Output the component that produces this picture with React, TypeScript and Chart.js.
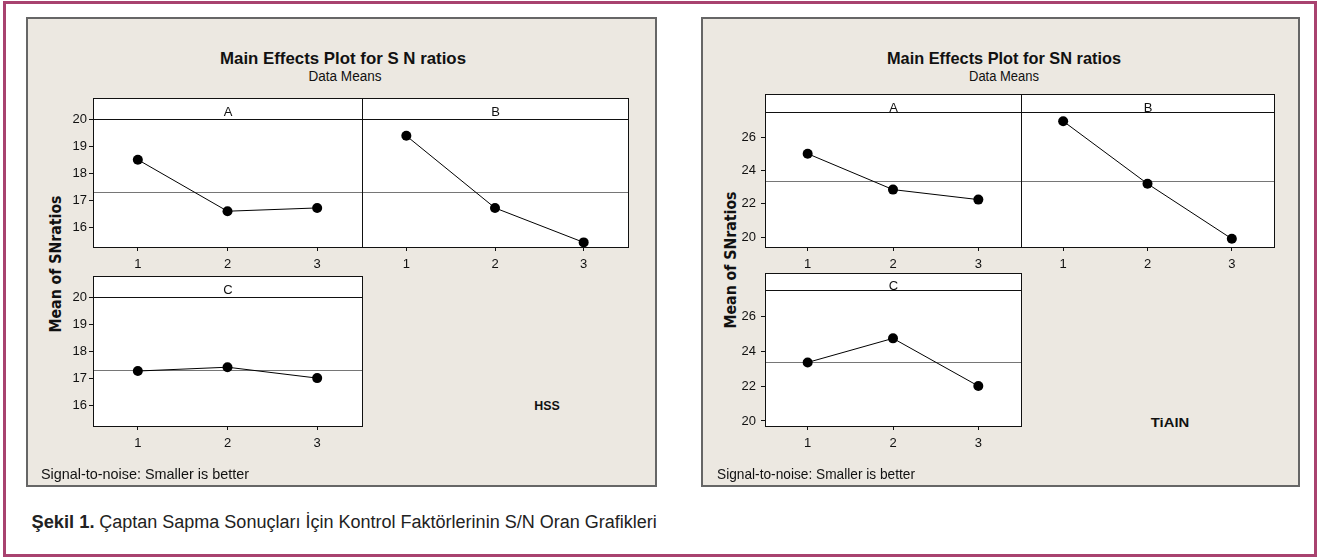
import React, { useEffect, useRef } from "react";
import { Chart, registerables } from "chart.js";

Chart.register(...registerables);

// ---------- data ----------
const levels = [1, 2, 3];
const factorNames = ["A", "B", "C"];

const hssA = [18.5, 16.6, 16.72];
const hssB = [19.38, 16.72, 15.45];
const hssC = [17.28, 17.42, 17.02];
const hssMean = 17.3;
const hssYTicks = [16, 17, 18, 19, 20];

const tialnA = [25.0, 22.85, 22.25];
const tialnB = [26.95, 23.2, 19.9];
const tialnC = [23.35, 24.73, 22.0];
const tialnMean = 23.38;
const tialnYTicks = [20, 22, 24, 26];

// ---------- style ----------
const TICK_FONT = "Liberation Sans";
const LEFT_PAD = 40;
const BOTTOM_PAD = 32;

type SubProps = {
  left: number;
  right: number;
  top: number;
  headerBottom: number;
  bottom: number;
  yMin: number;
  yMax: number;
  yTicks: number[];
  values: number[];
  mean: number;
  label: string;
  showY: boolean;
  labelOffset: number;
  yPad: number;
};

function Subplot(p: SubProps) {
  const ref = useRef<HTMLCanvasElement>(null);
  const lp = p.showY ? LEFT_PAD : 0;
  const width = p.right - p.left + lp + 1;
  const height = p.bottom - p.top + BOTTOM_PAD;

  useEffect(() => {
    if (!ref.current) return;
    const framePlugin = {
      id: "frame",
      beforeDatasetsDraw(chart: any) {
        const { ctx, chartArea } = chart;
        const { left, right, bottom } = chartArea;
        ctx.save();
        ctx.fillStyle = "#ffffff";
        ctx.fillRect(left, 0, right - left, bottom);
        const my = Math.round(chart.scales.y.getPixelForValue(p.mean)) + 0.5;
        ctx.strokeStyle = "#767676";
        ctx.lineWidth = 1;
        ctx.beginPath();
        ctx.moveTo(left, my);
        ctx.lineTo(right, my);
        ctx.stroke();
        ctx.restore();
      },
      afterDatasetsDraw(chart: any) {
        const { ctx, chartArea } = chart;
        const { left, right, top, bottom } = chartArea;
        ctx.save();
        ctx.strokeStyle = "#111";
        ctx.lineWidth = 1;
        ctx.fillStyle = "#ffffff";
        ctx.fillRect(left, 0.5, right - left, top - 0.5);
        ctx.strokeRect(left + 0.5, 0.5, right - left, top);
        ctx.strokeRect(left + 0.5, top + 0.5, right - left, bottom - top);
        ctx.fillStyle = "#111";
        ctx.font = `13px "${TICK_FONT}"`;
        ctx.textAlign = "center";
        ctx.textBaseline = "alphabetic";
        ctx.fillText(p.label, (left + right) / 2 + 0.5, top - p.labelOffset);
        ctx.restore();
      },
    };

    const chart = new Chart(ref.current, {
      type: "line",
      data: {
        datasets: [
          {
            data: levels.map((x, i) => ({ x, y: p.values[i] })),
            borderColor: "#000",
            borderWidth: 1,
            pointRadius: 5,
            pointBackgroundColor: "#000",
            pointBorderColor: "#000",
            pointBorderWidth: 0,
            tension: 0,
            clip: false as any,
          },
        ],
      },
      options: {
        responsive: false,
        animation: false,
        devicePixelRatio: 1,
        layout: {
          autoPadding: false,
          padding: { top: p.headerBottom - p.top, left: 0, right: 1, bottom: 0 },
        },
        plugins: { legend: { display: false }, tooltip: { enabled: false } },
        scales: {
          x: {
            type: "linear",
            min: 0.5,
            max: 3.5,
            afterBuildTicks: (s: any) => {
              s.ticks = levels.map((v) => ({ value: v }));
            },
            afterFit: (s: any) => {
              s.height = BOTTOM_PAD;
            },
            grid: { display: true, drawOnChartArea: false, drawTicks: true, tickLength: 4, color: "#111" },
            border: { display: false },
            ticks: {
              color: "#111",
              font: { family: TICK_FONT, size: 13 },
              padding: 6,
              autoSkip: false,
              maxRotation: 0,
            },
          },
          y: {
            type: "linear",
            display: p.showY,
            min: p.yMin,
            max: p.yMax,
            afterBuildTicks: (s: any) => {
              s.ticks = p.yTicks.map((v) => ({ value: v }));
            },
            afterFit: (s: any) => {
              s.width = p.showY ? LEFT_PAD : 0;
            },
            grid: { display: true, drawOnChartArea: false, drawTicks: true, tickLength: 4, color: "#111" },
            border: { display: false },
            ticks: {
              color: "#111",
              font: { family: TICK_FONT, size: 13 },
              padding: p.yPad,
              autoSkip: false,
            },
          },
        },
      },
      plugins: [framePlugin],
    } as any);
    return () => chart.destroy();
  }, []);

  return (
    <canvas
      ref={ref}
      width={width}
      height={height}
      style={{ position: "absolute", left: p.left - lp, top: p.top, width, height }}
    />
  );
}

// ---------- fitted text ----------
let measureCtx: CanvasRenderingContext2D | null = null;
function measure(text: string, font: string) {
  if (!measureCtx) measureCtx = document.createElement("canvas").getContext("2d");
  measureCtx!.font = font;
  return measureCtx!.measureText(text).width;
}

function FitText(props: {
  text: string;
  font: string;
  cx: number;
  cy: number;
  width: number;
  rotate?: boolean;
  color?: string;
}) {
  const w = measure(props.text, props.font) || 1;
  const s = props.width / w;
  return (
    <div
      style={{
        position: "absolute",
        left: props.cx,
        top: props.cy,
        font: props.font,
        lineHeight: 1,
        whiteSpace: "nowrap",
        color: props.color || "#111",
        transformOrigin: "center center",
        transform: `translate(-50%, -50%) ${props.rotate ? "rotate(-90deg) " : ""}scaleX(${s})`,
      }}
    >
      {props.text}
    </div>
  );
}

function Panel(props: { left: number; right: number; top: number; bottom: number }) {
  return (
    <div
      style={{
        position: "absolute",
        left: props.left,
        top: props.top,
        width: props.right - props.left,
        height: props.bottom - props.top,
        boxSizing: "border-box",
        background: "#ece8e1",
        border: "2px solid #666",
      }}
    />
  );
}

export default function App() {
  useEffect(() => {
    document.body.style.margin = "0";
    document.body.style.overflow = "hidden";
  }, []);

  const titleFont = 'bold 17px "Liberation Sans"';
  const subFont = '14px "Liberation Sans"';
  const yFont = 'bold 15px "DejaVu Sans"';
  const noteFont = '15px "Liberation Sans"';
  const tagFont = 'bold 13px "Liberation Sans"';

  return (
    <div
      style={{
        position: "absolute",
        left: 0,
        top: 0,
        width: 1317,
        height: 559,
        background: "#fff",
        overflow: "hidden",
      }}
    >
      <div
        style={{
          position: "absolute",
          left: 3,
          top: 1,
          width: 1314,
          height: 556,
          boxSizing: "border-box",
          border: "3px solid #a8426f",
        }}
      />

      {/* Left panel: HSS */}
      <Panel left={26} right={657} top={17} bottom={487} />
      <FitText text="Main Effects Plot for S N ratios" font={titleFont} cx={343} cy={57.5} width={246} />
      <FitText text="Data Means" font={subFont} cx={344.5} cy={75.5} width={73} />
      <FitText text="Mean of SNratios" font={yFont} cx={56} cy={263.5} width={137} rotate />
      <Subplot left={93} right={362} top={98} headerBottom={119} bottom={247} yMin={15.28} yMax={20}
        yTicks={hssYTicks} values={hssA} mean={hssMean} label={factorNames[0]} showY labelOffset={3} yPad={2} />
      <Subplot left={362} right={628} top={98} headerBottom={119} bottom={247} yMin={15.28} yMax={20}
        yTicks={hssYTicks} values={hssB} mean={hssMean} label={factorNames[1]} showY={false} labelOffset={3} yPad={2} />
      <Subplot left={93} right={362} top={276} headerBottom={297} bottom={426} yMin={15.26} yMax={20}
        yTicks={hssYTicks} values={hssC} mean={hssMean} label={factorNames[2]} showY labelOffset={3} yPad={2} />
      <FitText text="HSS" font={tagFont} cx={547} cy={405} width={25.5} />
      <FitText text="Signal-to-noise: Smaller is better" font={noteFont} cx={145} cy={473} width={208} />

      {/* Right panel: TiAlN */}
      <Panel left={701} right={1300} top={17} bottom={487} />
      <FitText text="Main Effects Plot for SN ratios" font={titleFont} cx={1004} cy={57.5} width={234} />
      <FitText text="Data Means" font={subFont} cx={1004} cy={75.5} width={70} />
      <FitText text="Mean of SNratios" font={yFont} cx={731} cy={259.5} width={137} rotate />
      <Subplot left={765} right={1021} top={94} headerBottom={112} bottom={247} yMin={19.41} yMax={27.5}
        yTicks={tialnYTicks} values={tialnA} mean={tialnMean} label={factorNames[0]} showY labelOffset={0} yPad={5} />
      <Subplot left={1021} right={1274} top={94} headerBottom={112} bottom={247} yMin={19.41} yMax={27.5}
        yTicks={tialnYTicks} values={tialnB} mean={tialnMean} label={factorNames[1]} showY={false} labelOffset={0} yPad={5} />
      <Subplot left={765} right={1021} top={273} headerBottom={290} bottom={426} yMin={19.71} yMax={27.5}
        yTicks={tialnYTicks} values={tialnC} mean={tialnMean} label={factorNames[2]} showY labelOffset={0} yPad={5} />
      <FitText text="TiAlN" font={tagFont} cx={1170} cy={422} width={38.5} />
      <FitText text="Signal-to-noise: Smaller is better" font={noteFont} cx={816} cy={473} width={198} />

      {/* Caption */}
      <FitText text="Şekil 1." font={'bold 18px "Liberation Sans"'} cx={63.3} cy={522} width={63} color="#222" />
      <FitText
        text="Çaptan Sapma Sonuçları İçin Kontrol Faktörlerinin S/N Oran Grafikleri"
        font={'18px "Liberation Sans"'}
        cx={377.8}
        cy={522}
        width={557.6}
        color="#222"
      />
    </div>
  );
}
